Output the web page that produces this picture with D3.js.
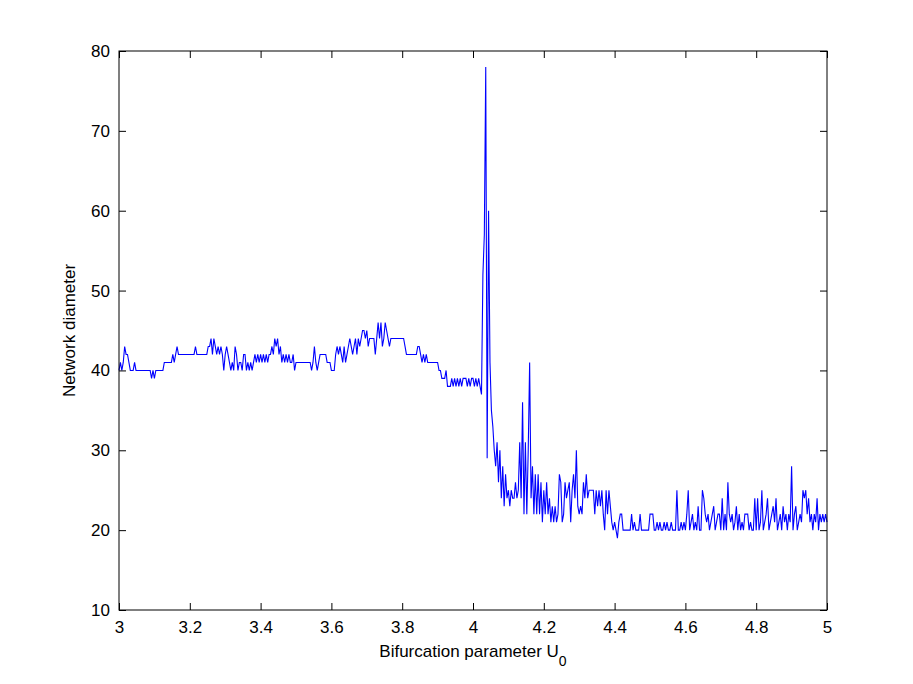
<!DOCTYPE html>
<html>
<head>
<meta charset="utf-8">
<script src="https://cdn.jsdelivr.net/npm/d3@7"></script>
<style>
  body { margin: 0; background: #fff; }
  text { font-family: "Liberation Sans", Arial, Helvetica, sans-serif; }
</style>
</head>
<body>
<script>
// network diameter vs U0, sampled every 0.004, one array per 0.2 slice of the x axis
var xStep = 0.004;
var d300 = [40,41,40,41,43,42,42,41,40,40, 40,41,40,40,40,40,40,40,40,40, 40,40,40,39,40,39,40,40,40,40, 40,40,41,41,41,41,41,41,42,41, 42,43,42,42,42,42,42,42,42,42];
var d320 = [42,42,42,42,43,42,42,42,42,42, 42,42,42,43,43,44,42,44,43,42, 43,42,43,42,40,42,43,42,41,40, 41,40,43,42,40,41,41,40,42,42, 40,41,40,41,40,41,42,41,42,41];
var d340 = [42,41,42,41,42,41,42,42,43,42, 44,43,44,42,43,41,42,41,42,41, 42,41,41,42,40,41,41,41,41,41, 41,41,41,41,41,41,40,41,43,41, 40,41,42,42,42,42,42,41,41,41];
var d360 = [40,40,40,42,43,42,43,42,41,43, 41,42,43,44,43,42,43,44,42,44, 43,44,45,45,44,45,43,44,44,44, 44,42,44,46,44,46,43,44,46,45, 44,43,44,44,44,44,44,44,44,44];
var d380 = [44,44,43,42,42,42,42,42,42,42, 42,43,43,42,41,42,41,42,41,41, 41,41,41,41,41,41,40,40,39,39, 39,40,38,38,38,39,38,39,38,39, 38,39,38,39,39,39,38,39,38,39];
var d400 = [39,38,39,38,39,38,37,52,57,78, 29,60,41,35,33,30,28,31,26,30, 24,28,23,27,24,25,23,25,24,24, 26,24,25,31,24,36,22,31,22,30, 41,24,28,22,27,22,27,22,26,21];
var d420 = [25,22,26,22,24,21,23,21,23,21, 22,27,26,21,22,26,24,25,26,21, 25,27,24,30,23,22,23,22,26,24, 27,24,25,25,25,25,22,25,23,25, 23,25,22,20,25,22,25,23,21,20];
var d440 = [21,20,19,21,22,22,20,20,20,20, 20,20,22,20,21,20,20,20,22,20, 20,20,20,20,20,22,22,22,20,20, 21,20,21,20,20,21,20,21,20,20, 21,20,20,20,25,20,20,21,20,21];
var d460 = [20,22,25,20,21,22,20,21,20,23, 20,20,25,24,22,21,22,20,21,22, 23,20,21,22,22,20,24,20,22,20, 26,22,21,22,20,21,23,20,22,20, 21,20,22,22,22,20,21,20,20,24];
var d480 = [20,24,20,21,25,20,21,22,24,20, 21,22,23,21,24,20,21,22,20,23, 21,22,20,22,21,28,20,22,23,20, 21,22,21,25,24,25,22,24,21,22, 20,22,21,24,20,22,21,22,21,22, 21];

var xTicks = [3, 3.2, 3.4, 3.6, 3.8, 4, 4.2, 4.4, 4.6, 4.8, 5];
var xTickLabels = ["3", "3.2", "3.4", "3.6", "3.8", "4", "4.2", "4.4", "4.6", "4.8", "5"];
var yTicks = [10, 20, 30, 40, 50, 60, 70, 80];

var width = 913, height = 684;
var margin = {left: 119, right: 86, top: 51, bottom: 74};

var values = [].concat(d300, d320, d340, d360, d380, d400, d420, d440, d460, d480);
var data = values.map(function(v, i) { return {u: 3 + i * xStep, d: v}; });

var svg = d3.select("body").append("svg")
  .attr("width", width).attr("height", height);

var x = d3.scaleLinear().domain([3, 5]).range([margin.left, width - margin.right]);
var y = d3.scaleLinear().domain([10, 80]).range([height - margin.bottom, margin.top]);

// data line first, frame on top
svg.append("path")
  .datum(data)
  .attr("fill", "none")
  .attr("stroke", "#0000ff")
  .attr("stroke-width", 1.1)
  .attr("d", d3.line().x(function(p) { return x(p.u); }).y(function(p) { return y(p.d); }));

function styleAxis(g) {
  g.select(".domain").remove();
  g.selectAll("line").attr("stroke", "#000");
  g.selectAll("text").attr("font-size", 17).attr("fill", "#000");
}

var tickLen = 7;
svg.append("g")
  .attr("transform", "translate(0," + y(10) + ")")
  .call(d3.axisBottom(x).tickValues(xTicks).tickSize(-tickLen).tickPadding(11)
    .tickFormat(function(d, i) { return xTickLabels[i]; }))
  .call(styleAxis);
svg.append("g")
  .attr("transform", "translate(0," + y(80) + ")")
  .call(d3.axisTop(x).tickValues(xTicks).tickSize(-tickLen).tickFormat(""))
  .call(styleAxis);
svg.append("g")
  .attr("transform", "translate(" + x(3) + ",0)")
  .call(d3.axisLeft(y).tickValues(yTicks).tickSize(-tickLen).tickPadding(9))
  .call(styleAxis);
svg.append("g")
  .attr("transform", "translate(" + x(5) + ",0)")
  .call(d3.axisRight(y).tickValues(yTicks).tickSize(-tickLen).tickFormat(""))
  .call(styleAxis);

// box
svg.append("rect")
  .attr("x", x(3)).attr("y", y(80))
  .attr("width", x(5) - x(3)).attr("height", y(10) - y(80))
  .attr("fill", "none").attr("stroke", "#000").attr("stroke-width", 1);

// labels
var xl = svg.append("text")
  .attr("x", (x(3) + x(5)) / 2).attr("y", y(10) + 47)
  .attr("text-anchor", "middle").attr("font-size", 17)
  .text("Bifurcation parameter U");
xl.append("tspan").attr("dy", 9).attr("font-size", 14).text("0");

svg.append("text")
  .attr("transform", "translate(75," + (y(10) + y(80)) / 2 + ") rotate(-90)")
  .attr("text-anchor", "middle").attr("font-size", 17)
  .text("Network diameter");
</script>
</body>
</html>
